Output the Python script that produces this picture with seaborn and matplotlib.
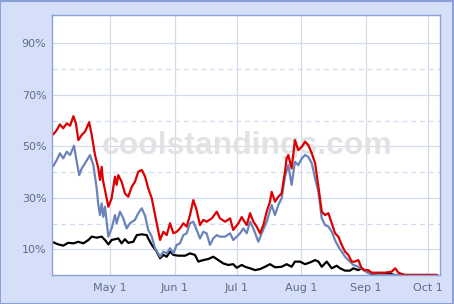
import matplotlib
matplotlib.use("Agg")
import matplotlib.pyplot as plt
import matplotlib.patches as mpatches
import seaborn as sns
import pandas as pd

# ---- data: day number since Apr 3, value in percent ----
red_day = [0.6, 2.3, 3.8, 5.4, 7.1, 8.7, 10.3, 11.5, 12.7, 14.3, 15.9, 17.9, 19.1, 20.7, 22.3,
           23.1, 23.9, 24.5, 26, 27.1, 28.7, 30.3, 31.1, 31.9, 33.5, 35.1, 36.7, 38.4, 39.9,
           41.5, 43.2, 44.8, 46.3, 48, 49.6, 52, 53.6, 55.2, 56.8, 58.4, 60, 61.6, 63.2, 64.8,
           66.4, 68, 69.6, 71.2, 72.8, 74.4, 76.9, 79.3, 80.8, 83.3, 85.7, 87.2, 89.7, 91.3,
           92.4, 93.7, 95.3, 96.9, 98.5, 100.1, 101.7, 103.3, 104.9, 105.7, 107.3, 108.9,
           110.5, 112.1, 112.9, 113.7, 115.3, 116.9, 118.5, 120.2, 121.8, 123.3, 125, 126.6,
           128.2, 129.8, 131.4, 133, 134.6, 136.2, 137.8, 139.4, 141, 142.6, 144.2, 145.8,
           147.4, 149, 150.6, 152.2, 153.8, 160.2, 163.5, 165.1, 166.7, 168.3, 169.9, 185.3]
red_val = [54.6, 56.3, 58.5, 57, 58.9, 58, 61.7, 58.9, 52.4, 54.4, 55.7, 59.3, 54.4, 46.6, 41.4,
           36.9, 42, 36.9, 31, 26.5, 29.8, 38.2, 35, 38.8, 36.2, 31.7, 30.4, 34.3, 36.2,
           40.1, 40.8, 38.2, 33.7, 29.8, 23.3, 13.6, 16.8, 15.5, 20.1, 16.2, 16.8, 18.1, 20.1, 18.8,
           23.3, 29.1, 25.2, 19.4, 21.4, 20.7, 22, 24.6, 22, 20.7, 22, 17.5, 20.1, 22.5,
           21.0, 19.4, 24, 20.7, 18.8, 16.2, 19.4, 24.6, 28.5, 32.3, 28.5, 30.4,
           31.7, 40.1, 45.3, 46.6, 41.4, 52.4, 48.5, 49.8, 51.8, 50.5, 47.3, 43.4,
           34.3, 24.6, 23.3, 24, 20.1, 16.2, 14.9, 11.7, 9.1, 7.8, 5.2, 5.2,
           5.8, 2.6, 1.9, 1.9, 0.9, 0.9, 1.3, 2.6, 0.9, 0.4, 0, 0]

blue_day = [0.6, 2.3, 3.8, 5.4, 7.1, 8.7, 10.6, 11.9, 13.1, 14.3, 15.9, 18.3, 19.9, 21.5, 22.3,
            23.1, 23.9, 24.7, 25.5, 27.1, 28.7, 30.3, 31.1, 32.7, 34.3, 35.9, 37.5, 39.9, 41.5,
            43.2, 44.8, 46.3, 48, 49.6, 52, 53.6, 55.2, 56.8, 58.4, 60, 61.6, 63.2, 64.8, 66.4,
            68, 69.6, 71.2, 72.8, 74.4, 76, 77.6, 79.3, 80.8, 83.3, 85.7, 87.2, 88.9, 90.5,
            92.1, 93.7, 95.3, 96.9, 99.3, 100.9, 103.3, 105.7, 107.3, 108.9, 110.5, 112.1,
            113.7, 115.3, 116.9, 118.5, 120.2, 121.8, 123.3, 125, 126.6, 128.2, 129.8, 131.4,
            133, 134.6, 136.2, 137.8, 139.4, 141, 142.6, 145, 147.4, 149.8, 152.2, 157.1,
            160.2, 185.3]
blue_val = [42.3, 44.7, 47.3, 45.3, 47.9, 46.6, 50.2, 44, 38.8, 41.4, 43.4, 46.6, 42.7, 33.7, 27.2,
            23.3, 27.8, 22.6, 26.5, 14.9, 18.1, 23.3, 20.1, 24.6, 22, 18.1, 20.1, 21.4, 24,
            25.9, 23, 17.5, 14.9, 10.4, 7.1, 9.1, 8.4, 10.4, 8.4, 11.7, 12.3, 15.5, 16.2, 20.1,
            20.7, 17.5, 14.2, 16.8, 16.2, 11.7, 14.2, 15.5, 14.9, 14.9, 16.2, 13.6, 14.9, 16.2,
            18.1, 16.2, 20.7, 18.1, 12.9, 16.2, 20.7, 27.2, 23.3, 27.2, 29.8, 38.2,
            42.7, 35, 44, 42.7, 45.3, 46.6, 45.9, 43.4, 37.5, 32.3, 22, 19.4,
            18.8, 16.8, 13.5, 11, 9.1, 7.1, 5.8, 3.9, 3.2, 1.9, 0.9, 0.4,
            0, 0]

black_day = [0.6, 3, 5.4, 7.8, 10.3, 12.7, 15.1, 17.5, 19.1, 21.5, 23.9, 25.5, 27.1, 28.7, 31.9,
             33.5, 35.1, 36.7, 39.1, 40.8, 43.2, 45.6, 46.3, 48, 50.4, 52, 53.6, 55.2, 56.8,
             58.4, 60.8, 64, 66.4, 68.8, 70.4, 72.8, 75.2, 77.6, 80, 82.4, 84.8, 87.2, 88.9,
             91.3, 92.9, 95.3, 97.7, 100.1, 102.5, 104.9, 107.3, 110.5, 112.9, 115.3, 116.9,
             119.3, 121.8, 124.2, 126.6, 128.2, 129.8, 132.2, 134.6, 137, 138.6, 141, 143.4,
             145, 147.4, 149, 150.6, 153, 157.1, 161.7, 165.1, 185.3]
black_val = [12.7, 11.9, 11.4, 12.5, 12.3, 12.9, 12.3, 13.6, 14.9, 14.5, 14.9, 13.6, 11.9, 13.6, 14.2,
             12.3, 13.9, 12.5, 12.9, 15.5, 15.8, 15.5, 14.2, 11.7, 9.1, 6.5, 7.8, 7.1, 9.1,
             7.8, 7.5, 7.5, 8.4, 7.8, 5.2, 5.8, 6.2, 7.1, 5.8, 4.5, 3.9, 4.2, 2.8,
             3.9, 3.2, 2.6, 1.9, 2.3, 3.2, 4.2, 3, 3.2, 4.2, 3.2, 5.2,
             5.2, 4.2, 4.9, 5.8, 5.2, 3.2, 5.2, 2.6, 3.6, 2.6, 1.7, 1.7,
             2.6, 1.9, 2.6, 1.7, 0.6, 0.4, 0.6, 0, 0]

month_days = [28, 59, 89, 120, 151, 181]
month_labels = ["May 1", "Jun 1", "Jul 1", "Aug 1", "Sep 1", "Oct 1"]
y_major = [10, 30, 50, 70, 90]
y_minor = [20, 40, 60, 80]

series = [("black", black_day, black_val), ("blue", blue_day, blue_val), ("red", red_day, red_val)]
df = pd.concat([pd.DataFrame({"day": d, "pct": v, "series": n}) for n, d, v in series],
               ignore_index=True)
palette = {"black": "#000000", "blue": "#6A84BA", "red": "#DD0000"}

sns.set_style("white")
plt.rcParams["font.family"] = ["DejaVu Sans"]

fig = plt.figure(figsize=(4.54, 3.04), dpi=100)
bg = "#D5E0F8"
fig.patch.set_facecolor(bg)
fig.patches.append(mpatches.Rectangle((0.001, 0.001), 0.997, 0.996, transform=fig.transFigure,
                                      fill=False, edgecolor="#8B9FD9", linewidth=1.5))
ax = fig.add_axes([52 / 454, 29 / 304, 388 / 454, 260 / 304])
ax.set_facecolor("white")

grid_c = "#D3DBEE"
for y in y_major:
    ax.axhline(y, color=grid_c, lw=0.9, zorder=0)
for y in y_minor:
    ax.axhline(y, color=grid_c, lw=0.9, ls=(0, (4, 3)), zorder=0)
for x in month_days:
    ax.axvline(x, color=grid_c, lw=0.9, zorder=0)

ax.text(0.502, 0.465, "coolstandings.com", transform=ax.transAxes, ha="center", va="baseline",
        fontsize=23, fontweight="bold", family=["Liberation Sans", "DejaVu Sans"],
        color="#E2E2E2", zorder=0.5)

sns.lineplot(data=df, x="day", y="pct", hue="series", palette=palette, estimator=None,
             sort=False, linewidth=1.6, legend=False, ax=ax, zorder=2)

ax.set_xlim(0, 186.7)
ax.set_ylim(0, 101)
ax.set_xticks(month_days)
ax.set_xticklabels(month_labels)
ax.set_yticks(y_major)
ax.set_yticklabels([f"{v}%" for v in y_major])
ax.set_xlabel("")
ax.set_ylabel("")
lab_c = "#5E6A8E"
ax.tick_params(axis="both", length=0, labelsize=8, labelcolor=lab_c)
ax.tick_params(axis="x", pad=6)
ax.tick_params(axis="y", pad=4)
for s in ax.spines.values():
    s.set_visible(True)
    s.set_color("#8C9FD6")
    s.set_linewidth(1.0)

fig.savefig("out.png", dpi=100, facecolor=bg)
